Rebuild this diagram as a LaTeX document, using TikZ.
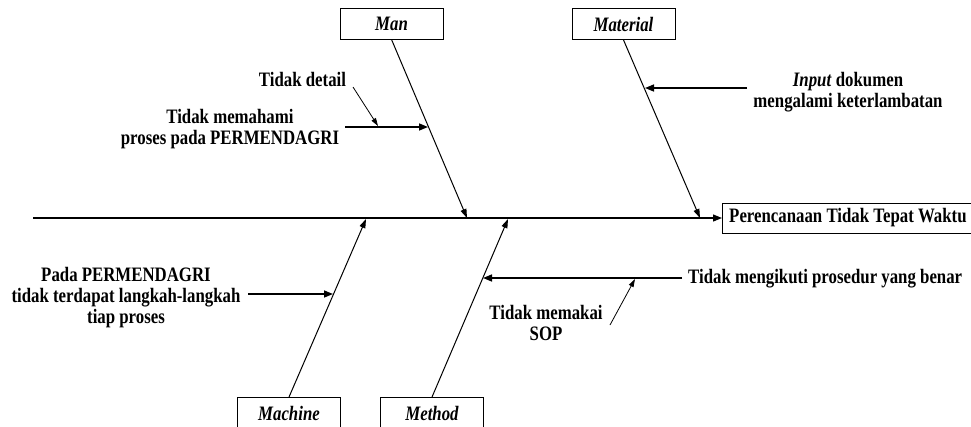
\documentclass[tikz,border=0pt]{standalone}
\usepackage{fontspec}
\setmainfont[FakeStretch=0.82]{Liberation Serif}
\usetikzlibrary{arrows.meta}
\begin{document}
\begin{tikzpicture}[x=1pt,y=-1pt,
  lbl/.style={font=\bfseries\fontsize{20.5}{21}\selectfont, inner sep=0pt, align=center},
  catbox/.style={draw, line width=0.9pt, minimum width=103pt, minimum height=31pt, inner sep=0pt, font=\bfseries\itshape\fontsize{20.5}{21}\selectfont},
  spine/.style={line width=1.2pt, -{Triangle[length=9pt,width=7pt]}},
  bone/.style={line width=1pt, -{Triangle[length=9pt,width=6pt]}},
  sub/.style={line width=1.5pt, -{Triangle[length=9pt,width=7pt]}},
  ptr/.style={line width=0.8pt, -{Triangle[length=8pt,width=5pt]}},
]
\useasboundingbox (0,0) rectangle (971,426);

% category boxes
\node[catbox] (man) at (391.5,23.5) {Man};
\node[catbox] (mat) at (623.5,24) {Material};
\node[catbox] (mach) at (289,413) {Machine};
\node[catbox] (meth) at (432,413) {Method};

% effect
\node[draw, line width=0.9pt, anchor=west, minimum width=251pt, minimum height=30pt, lbl] (eff) at (722,218) {Perencanaan Tidak Tepat Waktu};

% spine
\coordinate (tail) at (33,218);
\draw[spine] (tail) -- (eff.west);

% bones
\coordinate (manH) at (467,218);
\coordinate (matH) at (700,218);
\coordinate (machH) at (366,219);
\coordinate (methH) at (508,219);
\draw[bone] (man.south) -- (manH);
\draw[bone] (mat.south) -- (matH);
\draw[bone] (mach.north) -- (machH);
\draw[bone] (meth.north) -- (methH);

% Man causes
\node[lbl] (c1) at (230,129) {Tidak memahami\\proses pada PERMENDAGRI};
\coordinate (c1s) at (345,127);
\coordinate (c1e) at (428,127);
\draw[sub] (c1s) -- (c1e);
\node[lbl, anchor=base] (c2) at (302.5,86) {Tidak detail};
\coordinate (c2s) at (353,87);
\coordinate (c2e) at (378,126);
\draw[ptr] (c2s) -- (c2e);

% Material cause
\node[lbl] (c3) at (848,92) {\textit{Input} dokumen\\mengalami keterlambatan};
\coordinate (c3s) at (747,88);
\coordinate (c3e) at (645,88);
\draw[sub] (c3s) -- (c3e);

% Machine cause
\node[lbl] (c4) at (126,298) {Pada PERMENDAGRI\\tidak terdapat langkah-langkah\\tiap proses};
\coordinate (c4s) at (248,294);
\coordinate (c4e) at (333,294);
\draw[sub] (c4s) -- (c4e);

% Method causes
\node[lbl, anchor=base west] (c5) at (688,283) {Tidak mengikuti prosedur yang benar};
\coordinate (c5s) at (682,278);
\coordinate (c5e) at (483,278);
\draw[sub] (c5s) -- (c5e);
\node[lbl] (c6) at (546,322.5) {Tidak memakai\\SOP};
\coordinate (c6s) at (610,325);
\coordinate (c6e) at (635,279);
\draw[ptr] (c6s) -- (c6e);
\end{tikzpicture}
\end{document}
